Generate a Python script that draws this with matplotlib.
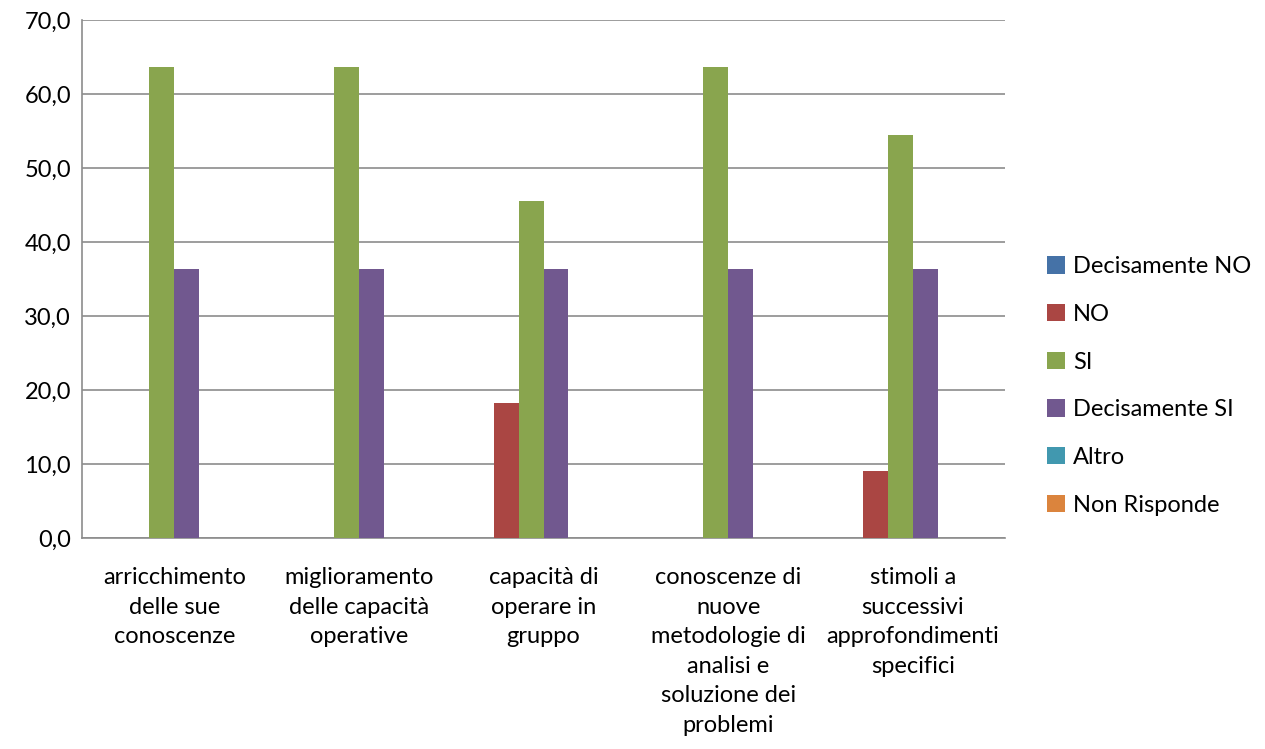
import matplotlib
matplotlib.use("Agg")
import matplotlib.pyplot as plt
import numpy as np

categories = ["arricchimento\ndelle sue\nconoscenze",
              "miglioramento\ndelle capacità\noperative",
              "capacità di\noperare in\ngruppo",
              "conoscenze di\nnuove\nmetodologie di\nanalisi e\nsoluzione dei\nproblemi",
              "stimoli a\nsuccessivi\napprofondimenti\nspecifici"]
series_names = ["Decisamente NO", "NO", "SI", "Decisamente SI", "Altro", "Non Risponde"]
decisamente_no = [0, 0, 0, 0, 0]
no = [0, 0, 18.2, 0, 9.1]
si = [63.6, 63.6, 45.5, 63.6, 54.5]
decisamente_si = [36.4, 36.4, 36.4, 36.4, 36.4]
altro = [0, 0, 0, 0, 0]
non_risponde = [0, 0, 0, 0, 0]
values = [decisamente_no, no, si, decisamente_si, altro, non_risponde]
colors = ["#4572A7", "#AA4643", "#89A54E", "#71588F", "#4198AF", "#DB843D"]

plt.rcParams['font.family'] = ['Lato', 'DejaVu Sans']

fig = plt.figure(figsize=(12.65, 7.49), dpi=100)
ax = fig.add_axes([82/1265, 1 - 538/749, (1005-82)/1265, (538-20)/749])

x = np.arange(len(categories))
w = 0.135
for i, (name, vals, c) in enumerate(zip(series_names, values, colors)):
    ax.bar(x + (i - 2.5) * w, vals, width=w, color=c, label=name, zorder=3)

ax.set_xlim(-0.5, len(categories) - 0.5)
ax.set_ylim(0, 70)
ax.set_yticks(np.arange(0, 71, 10))
ax.set_yticklabels([f"{v:.1f}".replace(".", ",") for v in np.arange(0, 71, 10)], fontsize=17)
ax.set_xticks(x)
ax.set_xticklabels(categories, fontsize=17, linespacing=1.5, va="top")
ax.tick_params(axis="both", length=0, pad=8)
ax.tick_params(axis="x", pad=21)
ax.grid(axis="y", color="#8c8c8c", linewidth=1.2, zorder=0)
for s in ["top", "right"]:
    ax.spines[s].set_visible(False)
ax.spines["left"].set_color("#8c8c8c")
ax.spines["bottom"].set_color("#8c8c8c")
ax.spines["left"].set_linewidth(1.2)
ax.spines["bottom"].set_linewidth(1.2)

leg = fig.legend(loc="upper left", bbox_to_anchor=(1026/1265, 1 - 235/749), frameon=False,
                 fontsize=17, handlelength=0.75, handleheight=0.75, handletextpad=0.35,
                 labelspacing=1.13)

fig.savefig("out.png", dpi=100)
